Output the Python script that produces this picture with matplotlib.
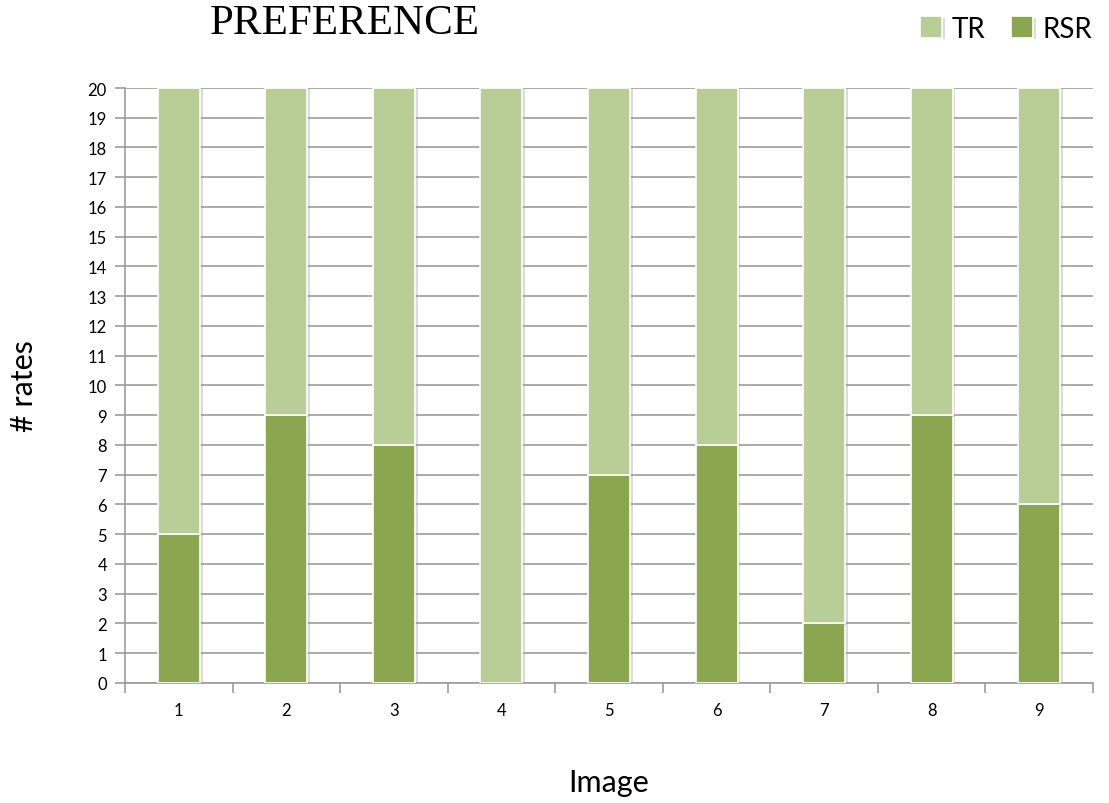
import numpy as np
import matplotlib.pyplot as plt
import matplotlib.patheffects as pe

images = ["1", "2", "3", "4", "5", "6", "7", "8", "9"]
rsr = [5, 9, 8, 0, 7, 8, 2, 9, 6]
tr = [15, 11, 12, 20, 13, 12, 18, 11, 14]

light = "#B9CE97"
dark = "#8AA64E"
grid_col = "#9C9C9C"

plt.rcParams["font.family"] = ["Lato", "DejaVu Sans"]

fig = plt.figure(figsize=(11.09, 8.04), dpi=100)
ax = fig.add_axes([0.1127, 0.1493, 0.8729, 0.74])

x = np.arange(len(images))
shadow = [pe.SimplePatchShadow(offset=(2, -1), shadow_rgbFace="#999999", alpha=0.35), pe.Normal()]
b1 = ax.bar(x, rsr, width=0.39, color=dark, edgecolor="white", linewidth=1.2, zorder=3, label="RSR")
b2 = ax.bar(x, tr, width=0.39, bottom=rsr, color=light, edgecolor="white", linewidth=1.2, zorder=3, label="TR")
for p in list(b1) + list(b2):
    p.set_path_effects(shadow)

ax.set_xlim(-0.5, len(images) - 0.5)
ax.set_ylim(0, 20)
ax.set_yticks(range(0, 21))
ax.yaxis.grid(True, color=grid_col, linewidth=1.2, zorder=0)
ax.set_axisbelow(True)

ax.set_xticks(x)
ax.set_xticklabels(images, fontsize=12)
ax.set_xticks(np.arange(-0.5, len(images)), minor=True)
ax.tick_params(axis="x", which="major", length=0, pad=14)
ax.tick_params(axis="x", which="minor", length=7, color=grid_col, width=1.2)
ax.tick_params(axis="y", length=7, color=grid_col, width=1.2, labelsize=12, pad=6)

for s in ["top", "right"]:
    ax.spines[s].set_visible(False)
for s in ["left", "bottom"]:
    ax.spines[s].set_color(grid_col)
    ax.spines[s].set_linewidth(1.2)

ax.set_ylabel("# rates", fontsize=22, labelpad=36)
ax.set_xlabel("Image", fontsize=22, labelpad=36)

fig.text(0.311, 0.970, "PREFERENCE", family=["Liberation Serif", "DejaVu Serif"],
         fontsize=31, ha="center", va="center")

ax.legend(handles=[b2, b1], labels=["TR", "RSR"], loc="upper right",
          bbox_to_anchor=(1.0, 1.0), bbox_transform=fig.transFigure,
          ncol=2, frameon=False, fontsize=20, handlelength=0.8, handleheight=0.8,
          handletextpad=0.35, columnspacing=0.9, borderaxespad=0.2)

fig.savefig("out.png", dpi=100)
